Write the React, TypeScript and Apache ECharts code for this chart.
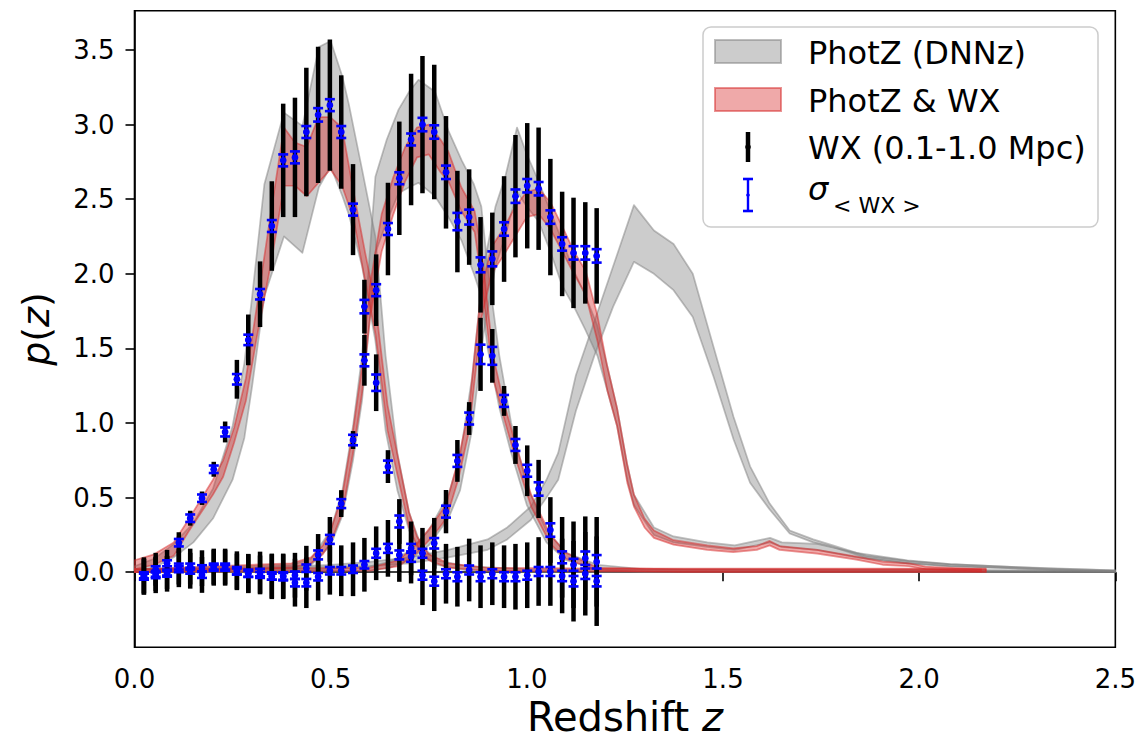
import React, { useEffect, useRef } from "react";
import * as echarts from "echarts";

// ---------- WX measurement redshifts ----------
const zWX = [0.024, 0.054, 0.083, 0.113, 0.142, 0.172, 0.202, 0.231, 0.261, 0.29, 0.32, 0.35, 0.379, 0.409, 0.438, 0.468, 0.498, 0.527, 0.557, 0.586, 0.616, 0.646, 0.675, 0.705, 0.734, 0.764, 0.794, 0.823, 0.853, 0.882, 0.912, 0.942, 0.971, 1.001, 1.03, 1.06, 1.09, 1.119, 1.149, 1.178];

// bin 1
const wx1 = [-0.02, 0.02, 0.06, 0.198, 0.362, 0.496, 0.69, 0.94, 1.293, 1.557, 1.863, 2.32, 2.76, 2.78, 2.95, 3.065, 3.13, 2.95, 2.43, 1.78, 1.27, 0.708, 0.34, 0.105, -0.02, -0.06, -0.01, -0.03, 0.015, -0.03, -0.01, -0.03, -0.03, -0.02, 0.005, 0.005, -0.025, -0.06, -0.01, -0.06];
const err1 = [0.12, 0.11, 0.09, 0.07, 0.05, 0.045, 0.05, 0.07, 0.13, 0.17, 0.22, 0.3, 0.38, 0.4, 0.43, 0.456, 0.44, 0.38, 0.305, 0.18, 0.19, 0.11, 0.15, 0.18, 0.2, 0.2, 0.2, 0.2, 0.21, 0.21, 0.21, 0.21, 0.22, 0.22, 0.23, 0.23, 0.25, 0.27, 0.28, 0.3];
const sig1 = [0.02, 0.02, 0.02, 0.025, 0.025, 0.025, 0.025, 0.03, 0.035, 0.035, 0.035, 0.04, 0.04, 0.04, 0.04, 0.045, 0.04, 0.04, 0.04, 0.045, 0.055, 0.04, 0.04, 0.035, 0.03, 0.03, 0.03, 0.03, 0.03, 0.03, 0.03, 0.03, 0.03, 0.03, 0.03, 0.03, 0.035, 0.035, 0.035, 0.035];

// bin 2
const wx2 = [-0.03, -0.01, -0.002, 0.038, 0.038, 0.027, 0.038, 0.038, 0.01, -0.007, -0.002, -0.025, -0.025, -0.02, 0.027, 0.116, 0.22, 0.46, 0.886, 1.42, 1.89, 2.3, 2.64, 2.9, 3.0, 2.95, 2.68, 2.35, 2.38, 1.46, 1.45, 1.148, 0.853, 0.68, 0.558, 0.283, 0.1, 0.05, 0.094, 0.07];
const err2 = [0.12, 0.115, 0.11, 0.12, 0.12, 0.12, 0.12, 0.12, 0.13, 0.13, 0.14, 0.15, 0.15, 0.15, 0.15, 0.14, 0.15, 0.09, 0.06, 0.17, 0.24, 0.31, 0.38, 0.44, 0.46, 0.45, 0.377, 0.34, 0.32, 0.245, 0.18, 0.1, 0.127, 0.17, 0.195, 0.22, 0.27, 0.29, 0.28, 0.3];
const sig2 = [0.02, 0.02, 0.02, 0.02, 0.02, 0.02, 0.02, 0.02, 0.025, 0.025, 0.025, 0.025, 0.025, 0.025, 0.025, 0.03, 0.03, 0.03, 0.035, 0.04, 0.04, 0.04, 0.04, 0.04, 0.045, 0.045, 0.045, 0.058, 0.05, 0.065, 0.06, 0.04, 0.04, 0.04, 0.045, 0.045, 0.04, 0.04, 0.045, 0.045];

// bin 3
const wx3 = [-0.03, -0.02, -0.01, 0.02, 0.01, -0.018, 0.03, 0.03, 0.005, -0.01, -0.018, -0.03, -0.03, -0.07, -0.07, -0.03, 0.01, 0.01, 0.02, 0.05, 0.127, 0.16, 0.116, 0.16, 0.127, 0.194, 0.406, 0.746, 1.03, 2.06, 2.1, 2.3, 2.52, 2.59, 2.57, 2.38, 2.2, 2.14, 2.14, 2.12];
const err3 = [0.12, 0.12, 0.12, 0.12, 0.12, 0.12, 0.12, 0.12, 0.12, 0.13, 0.13, 0.15, 0.15, 0.16, 0.17, 0.16, 0.16, 0.17, 0.18, 0.18, 0.18, 0.19, 0.18, 0.18, 0.17, 0.17, 0.145, 0.14, 0.11, 0.32, 0.31, 0.354, 0.41, 0.42, 0.41, 0.39, 0.35, 0.37, 0.34, 0.32];
const sig3 = [0.02, 0.02, 0.02, 0.02, 0.02, 0.02, 0.02, 0.02, 0.02, 0.02, 0.02, 0.02, 0.025, 0.025, 0.025, 0.025, 0.025, 0.025, 0.025, 0.025, 0.03, 0.03, 0.03, 0.03, 0.03, 0.035, 0.04, 0.04, 0.04, 0.05, 0.05, 0.045, 0.045, 0.045, 0.045, 0.045, 0.045, 0.045, 0.045, 0.045];

// ---------- PhotZ (DNNz) bands ----------
const zG1 = [0.0, 0.05, 0.1, 0.15, 0.2, 0.25, 0.28, 0.3, 0.331, 0.381, 0.428, 0.47, 0.5, 0.53, 0.546, 0.58, 0.614, 0.64, 0.67, 0.7, 0.73, 0.77, 0.85, 1.0, 2.5];
const g1Lo = [0.0, 0.03, 0.1, 0.2, 0.36, 0.62, 0.9, 1.25, 1.85, 2.25, 2.14, 2.58, 2.72, 2.52, 2.4, 2.05, 1.55, 0.95, 0.55, 0.28, 0.12, 0.05, 0.01, 0.0, 0.0];
const g1Hi = [0.04, 0.09, 0.19, 0.33, 0.56, 0.98, 1.4, 1.85, 2.6, 3.08, 2.99, 3.52, 3.56, 3.32, 3.14, 2.7, 2.25, 1.45, 0.8, 0.4, 0.18, 0.08, 0.04, 0.02, 0.01];

const zG2 = [0.0, 0.4, 0.45, 0.5, 0.53, 0.557, 0.58, 0.6, 0.614, 0.643, 0.673, 0.7, 0.724, 0.766, 0.8, 0.834, 0.865, 0.884, 0.9, 0.93, 0.96, 1.0, 1.05, 1.1, 1.18, 1.3, 2.5];
const g2Lo = [0.0, 0.02, 0.05, 0.18, 0.38, 0.75, 1.15, 1.7, 2.14, 2.35, 2.54, 2.58, 2.61, 2.52, 2.38, 2.22, 2.0, 1.85, 1.5, 1.1, 0.8, 0.45, 0.2, 0.08, 0.02, 0.0, 0.0];
const g2Hi = [0.02, 0.05, 0.09, 0.28, 0.55, 0.98, 1.45, 2.15, 2.65, 2.9, 3.1, 3.22, 3.3, 3.22, 2.96, 2.76, 2.6, 2.45, 2.05, 1.45, 1.0, 0.58, 0.28, 0.13, 0.05, 0.02, 0.01];

const zG3 = [0.0, 0.6, 0.65, 0.7, 0.75, 0.8, 0.83, 0.86, 0.89, 0.92, 0.945, 0.975, 1.0, 1.03, 1.06, 1.09, 1.12, 1.15, 1.18, 1.205, 1.23, 1.256, 1.273, 1.324, 1.374, 1.46, 1.53, 1.62, 1.65, 1.74, 1.84, 1.97, 2.08, 2.25, 2.5];
const g3Lo = [0.0, 0.01, 0.03, 0.08, 0.18, 0.36, 0.55, 0.95, 1.6, 2.05, 2.25, 2.55, 2.45, 2.35, 2.15, 1.92, 1.78, 1.62, 1.45, 1.22, 0.98, 0.62, 0.45, 0.25, 0.2, 0.17, 0.15, 0.2, 0.17, 0.15, 0.1, 0.06, 0.04, 0.025, 0.005];
const g3Hi = [0.02, 0.04, 0.07, 0.14, 0.28, 0.52, 0.78, 1.3, 2.05, 2.45, 2.65, 2.98, 2.8, 2.62, 2.42, 2.22, 2.02, 1.85, 1.65, 1.38, 1.1, 0.72, 0.52, 0.3, 0.24, 0.2, 0.18, 0.23, 0.2, 0.19, 0.13, 0.08, 0.055, 0.035, 0.012];

const zG4 = [0.0, 0.3, 0.5, 0.6, 0.7, 0.8, 0.9, 0.95, 1.01, 1.05, 1.08, 1.125, 1.172, 1.22, 1.273, 1.324, 1.374, 1.423, 1.476, 1.527, 1.569, 1.619, 1.67, 1.73, 1.78, 1.865, 1.974, 2.075, 2.245, 2.33, 2.5];
const g4Lo = [0.0, 0.0, 0.02, 0.04, 0.06, 0.1, 0.15, 0.22, 0.35, 0.5, 0.62, 1.08, 1.45, 1.78, 2.08, 2.0, 1.89, 1.71, 1.31, 0.89, 0.6, 0.42, 0.26, 0.2, 0.17, 0.095, 0.06, 0.04, 0.025, 0.015, 0.005];
const g4Hi = [0.02, 0.03, 0.05, 0.07, 0.1, 0.15, 0.22, 0.3, 0.44, 0.62, 0.8, 1.32, 1.68, 2.05, 2.46, 2.29, 2.2, 2.0, 1.51, 1.04, 0.71, 0.46, 0.28, 0.22, 0.18, 0.11, 0.075, 0.055, 0.035, 0.025, 0.012];

// ---------- PhotZ & WX bands ----------
const zR1 = [0.0, 0.05, 0.1, 0.137, 0.2, 0.226, 0.254, 0.284, 0.31, 0.35, 0.381, 0.409, 0.439, 0.469, 0.499, 0.529, 0.559, 0.588, 0.614, 0.645, 0.673, 0.7, 0.72, 0.75, 0.8, 0.9, 1.2, 2.17];
const r1Lo = [0.02, 0.05, 0.11, 0.27, 0.52, 0.64, 0.87, 1.15, 1.55, 2.1, 2.59, 2.59, 2.52, 2.61, 2.7, 2.59, 2.36, 1.95, 1.6, 0.95, 0.62, 0.3, 0.18, 0.08, 0.03, 0.01, 0.005, 0.005];
const r1Hi = [0.08, 0.12, 0.2, 0.35, 0.62, 0.75, 0.97, 1.3, 1.75, 2.45, 2.98, 2.88, 2.85, 3.05, 3.05, 2.98, 2.54, 2.14, 1.8, 1.12, 0.75, 0.4, 0.24, 0.12, 0.06, 0.03, 0.025, 0.025];

const zR2 = [0.0, 0.4, 0.45, 0.48, 0.5, 0.53, 0.557, 0.58, 0.6, 0.63, 0.66, 0.69, 0.72, 0.75, 0.78, 0.8, 0.833, 0.867, 0.885, 0.914, 0.94, 0.969, 1.011, 1.06, 1.1, 1.18, 1.4, 2.17];
const r2Lo = [0.0, 0.03, 0.06, 0.12, 0.2, 0.4, 0.8, 1.2, 1.7, 2.15, 2.4, 2.62, 2.78, 2.8, 2.68, 2.62, 2.42, 2.28, 1.95, 1.3, 1.05, 0.78, 0.44, 0.19, 0.09, 0.01, 0.0, 0.0];
const r2Hi = [0.02, 0.06, 0.1, 0.18, 0.28, 0.52, 0.95, 1.38, 1.92, 2.4, 2.65, 2.85, 2.98, 3.0, 2.9, 2.82, 2.58, 2.42, 2.15, 1.45, 1.15, 0.88, 0.52, 0.25, 0.13, 0.03, 0.02, 0.02];

const zR3 = [0.0, 0.6, 0.673, 0.72, 0.76, 0.795, 0.825, 0.853, 0.884, 0.91, 0.94, 0.97, 1.0, 1.03, 1.06, 1.09, 1.12, 1.15, 1.18, 1.205, 1.23, 1.256, 1.273, 1.3, 1.324, 1.374, 1.46, 1.526, 1.586, 1.619, 1.644, 1.74, 1.84, 1.907, 1.974, 2.016, 2.158];
const r3Lo = [0.0, 0.01, 0.04, 0.13, 0.24, 0.36, 0.62, 0.95, 1.7, 2.0, 2.12, 2.25, 2.38, 2.4, 2.3, 2.15, 2.0, 1.86, 1.55, 1.22, 0.98, 0.6, 0.44, 0.3, 0.23, 0.185, 0.15, 0.135, 0.15, 0.18, 0.15, 0.125, 0.085, 0.05, 0.04, 0.02, 0.005];
const r3Hi = [0.02, 0.03, 0.08, 0.19, 0.32, 0.46, 0.75, 1.1, 1.9, 2.18, 2.3, 2.45, 2.55, 2.57, 2.48, 2.32, 2.15, 2.02, 1.72, 1.38, 1.1, 0.72, 0.52, 0.36, 0.28, 0.215, 0.18, 0.16, 0.175, 0.21, 0.175, 0.15, 0.105, 0.071, 0.06, 0.038, 0.02];

const xTicks = [0, 0.5, 1.0, 1.5, 2.0, 2.5];
const yTicks = [0, 0.5, 1.0, 1.5, 2.0, 2.5, 3.0, 3.5];

const FONT = "DejaVu Sans";
const GRAY_FILL = "rgba(128,128,128,0.4)";
const GRAY_EDGE = "rgba(128,128,128,0.5)";
const RED_FILL = "rgba(214,39,40,0.4)";
const RED_EDGE = "rgba(214,39,40,0.5)";

function bandSeries(name: string, z: number[], lo: number[], hi: number[], fill: string, edge: string) {
  return {
    type: "custom",
    name,
    silent: true,
    clip: true,
    data: z.map((zz, i) => [zz, lo[i], hi[i]]),
    encode: { x: 0, y: [1, 2] },
    renderItem: (params: any, api: any) => {
      if (params.dataIndex !== 0) return null;
      const pts: number[][] = [];
      for (let i = 0; i < z.length; i++) pts.push(api.coord([z[i], hi[i]]));
      for (let i = z.length - 1; i >= 0; i--) pts.push(api.coord([z[i], lo[i]]));
      return {
        type: "polygon",
        shape: { points: pts },
        style: { fill, stroke: edge, lineWidth: 1.7, lineJoin: "round" },
      };
    },
  };
}

const bins = [
  { v: wx1, e: err1, s: sig1 },
  { v: wx2, e: err2, s: sig2 },
  { v: wx3, e: err3, s: sig3 },
];

function wxData(kind: "e" | "s") {
  const out: number[][] = [];
  bins.forEach((b) => {
    zWX.forEach((z, i) => out.push([z, b.v[i], kind === "e" ? b.e[i] : b.s[i]]));
  });
  return out;
}

const blackSeries = {
  type: "custom",
  name: "WX (0.1-1.0 Mpc)",
  silent: true,
  data: wxData("e"),
  encode: { x: 0, y: 1 },
  renderItem: (params: any, api: any) => {
    const z = api.value(0), v = api.value(1), e = api.value(2);
    const c = api.coord([z, v]);
    const t = api.coord([z, v + e]);
    const b = api.coord([z, v - e]);
    return {
      type: "group",
      children: [
        { type: "line", shape: { x1: c[0], y1: t[1], x2: c[0], y2: b[1] }, style: { stroke: "#000", lineWidth: 4.5 } },
        { type: "circle", shape: { cx: c[0], cy: c[1], r: 2.8 }, style: { fill: "#000" } },
      ],
    };
  },
};

const blueSeries = {
  type: "custom",
  name: "sigma",
  silent: true,
  data: wxData("s"),
  encode: { x: 0, y: 1 },
  renderItem: (params: any, api: any) => {
    const z = api.value(0), v = api.value(1), e = api.value(2);
    const c = api.coord([z, v]);
    const t = api.coord([z, v + e]);
    const b = api.coord([z, v - e]);
    const w = 5;
    const st = { stroke: "#0000ff", lineWidth: 2.2 };
    return {
      type: "group",
      children: [
        { type: "line", shape: { x1: c[0], y1: t[1], x2: c[0], y2: b[1] }, style: st },
        { type: "line", shape: { x1: c[0] - w, y1: t[1], x2: c[0] + w, y2: t[1] }, style: { ...st, lineWidth: 2.6 } },
        { type: "line", shape: { x1: c[0] - w, y1: b[1], x2: c[0] + w, y2: b[1] }, style: { ...st, lineWidth: 2.6 } },
        { type: "circle", shape: { cx: c[0], cy: c[1], r: 3.4 }, style: { fill: "#0000ff" } },
      ],
    };
  },
};

function legendGraphics() {
  const tx = 808;
  const font = `32px "${FONT}"`;
  return [
    { type: "rect", z: 100, shape: { x: 703, y: 27, width: 395, height: 200, r: 8 }, style: { fill: "rgba(255,255,255,0.85)", stroke: "#cccccc", lineWidth: 1.5 } },
    { type: "rect", z: 101, shape: { x: 715, y: 40, width: 66, height: 23 }, style: { fill: GRAY_FILL, stroke: GRAY_EDGE, lineWidth: 2 } },
    { type: "text", z: 101, style: { text: "PhotZ (DNNz)", x: tx, y: 53, font, fill: "#000", textAlign: "left", textVerticalAlign: "middle" } },
    { type: "rect", z: 101, shape: { x: 715, y: 88, width: 66, height: 23 }, style: { fill: RED_FILL, stroke: RED_EDGE, lineWidth: 2 } },
    { type: "text", z: 101, style: { text: "PhotZ & WX", x: tx, y: 101, font, fill: "#000", textAlign: "left", textVerticalAlign: "middle" } },
    { type: "line", z: 101, shape: { x1: 748, y1: 132, x2: 748, y2: 162 }, style: { stroke: "#000", lineWidth: 4.5 } },
    { type: "circle", z: 101, shape: { cx: 748, cy: 147, r: 2.8 }, style: { fill: "#000" } },
    { type: "text", z: 101, style: { text: "WX (0.1-1.0 Mpc)", x: tx, y: 148, font, fill: "#000", textAlign: "left", textVerticalAlign: "middle" } },
    { type: "line", z: 101, shape: { x1: 748, y1: 179, x2: 748, y2: 211 }, style: { stroke: "#0000ff", lineWidth: 2.4 } },
    { type: "line", z: 101, shape: { x1: 743, y1: 179, x2: 753, y2: 179 }, style: { stroke: "#0000ff", lineWidth: 2.6 } },
    { type: "line", z: 101, shape: { x1: 743, y1: 211, x2: 753, y2: 211 }, style: { stroke: "#0000ff", lineWidth: 2.6 } },
    { type: "circle", z: 101, shape: { cx: 748, cy: 195, r: 1.8 }, style: { fill: "#0000ff" } },
    { type: "text", z: 101, style: { text: "σ", x: tx, y: 189, font: `italic 32px "${FONT}"`, fill: "#000", textAlign: "left", textVerticalAlign: "middle" } },
    { type: "text", z: 101, style: { text: "< WX >", x: 833, y: 205, font: `22px "${FONT}"`, fill: "#000", textAlign: "left", textVerticalAlign: "middle" } },
  ];
}

export default function App() {
  const ref = useRef<HTMLDivElement>(null);
  useEffect(() => {
    if (!ref.current) return;
    const chart = echarts.init(ref.current, null, { renderer: "svg" });
    const axisLine = { show: true, lineStyle: { color: "#000", width: 1.6 } };
    const tick = { show: true, inside: false, length: 9, lineStyle: { color: "#000", width: 1.6 } };
    chart.setOption({
      animation: false,
      backgroundColor: "#fff",
      grid: { left: 134.5, right: 19.5, top: 10.7, bottom: 95.7, show: true, borderColor: "#000", borderWidth: 1.6, backgroundColor: "transparent" },
      xAxis: {
        type: "value",
        min: 0,
        max: 2.5,
        interval: 0.5,
        axisLine,
        axisTick: { ...tick, customValues: xTicks },
        splitLine: { show: false },
        axisLabel: { customValues: xTicks, showMinLabel: true, showMaxLabel: true, color: "#000", fontSize: 26, fontFamily: FONT, margin: 19, formatter: (v: number) => v.toFixed(1) },
        name: "Redshift {i|z}",
        nameLocation: "middle",
        nameGap: 50,
        nameTextStyle: { color: "#000", fontSize: 40, fontFamily: FONT, rich: { i: { fontStyle: "italic", fontSize: 40, fontFamily: FONT, color: "#000" } } },
      },
      yAxis: {
        type: "value",
        min: -0.503,
        max: 3.763,
        axisLine,
        axisTick: { ...tick, customValues: yTicks },
        splitLine: { show: false },
        axisLabel: { customValues: yTicks, color: "#000", fontSize: 26, fontFamily: FONT, margin: 20, formatter: (v: number) => v.toFixed(1) },
        name: "{i|p}({i|z})",
        nameLocation: "middle",
        nameGap: 80,
        nameTextStyle: { color: "#000", fontSize: 38, fontFamily: FONT, rich: { i: { fontStyle: "italic", fontSize: 38, fontFamily: FONT, color: "#000" } } },
      },
      series: [
        bandSeries("g1", zG1, g1Lo, g1Hi, GRAY_FILL, GRAY_EDGE),
        bandSeries("g2", zG2, g2Lo, g2Hi, GRAY_FILL, GRAY_EDGE),
        bandSeries("g3", zG3, g3Lo, g3Hi, GRAY_FILL, GRAY_EDGE),
        bandSeries("g4", zG4, g4Lo, g4Hi, GRAY_FILL, GRAY_EDGE),
        bandSeries("r1", zR1, r1Lo, r1Hi, RED_FILL, RED_EDGE),
        bandSeries("r2", zR2, r2Lo, r2Hi, RED_FILL, RED_EDGE),
        bandSeries("r3", zR3, r3Lo, r3Hi, RED_FILL, RED_EDGE),
        blackSeries,
        blueSeries,
      ],
      graphic: legendGraphics(),
    });
    return () => chart.dispose();
  }, []);
  return <div ref={ref} style={{ position: "fixed", left: 0, top: 0, width: 1139, height: 743, background: "#fff" }} />;
}
